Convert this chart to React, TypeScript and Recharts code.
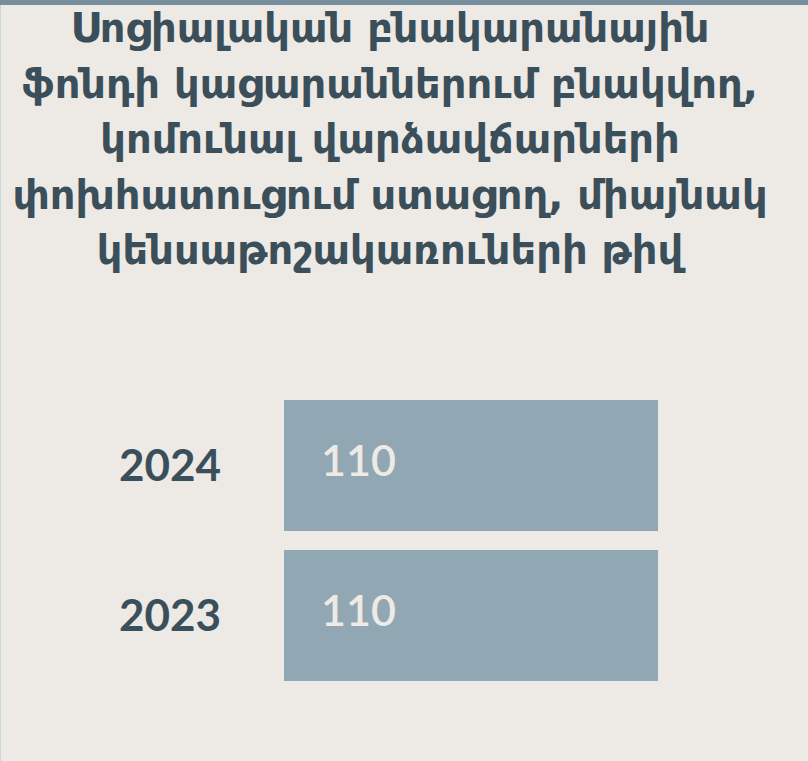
import { BarChart, Bar, XAxis, YAxis, LabelList } from "recharts";

const years = ["2024", "2023"];
const pensioners = [110, 110];
const titleLines = [
  "Սոցիալական բնակարանային",
  "ֆոնդի կացարաններում բնակվող,",
  "կոմունալ վարձավճարների",
  "փոխհատուցում ստացող, միայնակ",
  "կենսաթոշակառուների թիվ",
];

const data = years.map((y, i) => ({ year: y, value: pensioners[i] }));

const ink = "#3b4f5b";
const barFill = "#91a7b3";

const YearTick = (props: any) => {
  const { x, y, payload } = props;
  return (
    <text x={x - 55} y={y + 15} textAnchor="end" fill={ink}
      style={{ fontFamily: "Lato, sans-serif", fontWeight: 700, fontSize: 44 }}>
      {payload.value}
    </text>
  );
};

const ValueLabel = (props: any) => {
  const { x, y, height, value } = props;
  return (
    <text x={x + 37} y={y + height / 2 + 10} fill="#eeeae5"
      style={{ fontFamily: "Lato, sans-serif", fontWeight: 600, fontSize: 43 }}>
      {value}
    </text>
  );
};

export default function App() {
  return (
    <div style={{ position: "fixed", left: 0, top: 0, width: 808, height: 761, background: "#ede9e4", overflow: "hidden" }}>
      <div style={{ position: "absolute", left: 0, top: 0, width: 808, height: 5, background: "#778f9c" }} />
      <div style={{ position: "absolute", left: 0, top: 5, width: 1, height: 756, background: "#c9d5dc" }} />
      <div style={{
        position: "absolute", left: 0, top: 1, width: 780, textAlign: "center",
        color: ink, fontFamily: "'DejaVu Sans', sans-serif",
        fontWeight: 700, fontSize: 40, lineHeight: "55.5px", whiteSpace: "nowrap",
      }}>
        {titleLines.map(l => <div key={l}>{l}</div>)}
      </div>
      <div style={{ position: "absolute", left: 0, top: 0 }}>
        <BarChart width={808} height={761} data={data} layout="vertical"
          margin={{ top: 390.5, right: 150, bottom: 70.5, left: 0 }}
          barCategoryGap={9.5}>
          <XAxis type="number" domain={[0, 110]} hide />
          <YAxis type="category" dataKey="year" width={284} axisLine={false} tickLine={false} tick={<YearTick />} />
          <Bar dataKey="value" fill={barFill} isAnimationActive={false}>
            <LabelList dataKey="value" content={<ValueLabel />} />
          </Bar>
        </BarChart>
      </div>
    </div>
  );
}
